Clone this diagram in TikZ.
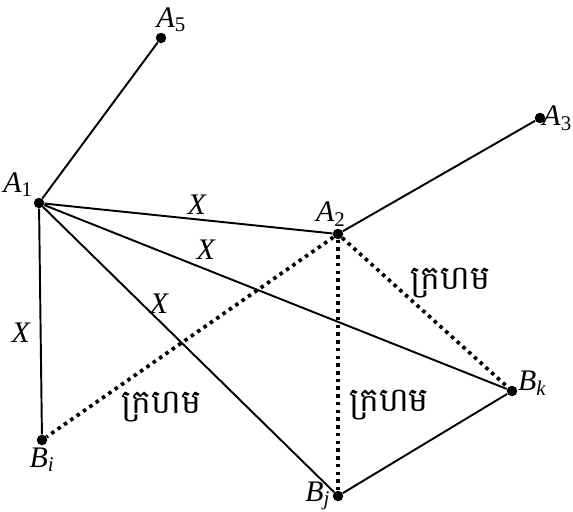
\documentclass[tikz,border=0pt]{standalone}
\usepackage{fontspec}
\setmainfont{Liberation Serif}
\newfontfamily\khmerfont[Script=Khmer]{Battambang}
\usetikzlibrary{positioning}
\newcommand{\pnt}[2]{\textit{#1}\textsubscript{#2}}
\tikzset{
  pt/.style={
    circle, fill=black, inner sep=0pt, minimum size=0.21cm,
    label distance=0pt
  },
  edge/.style={line width=1.1pt, draw=black},
  redge/.style={line width=2.1pt, draw=black, dash pattern=on 2pt off 2.4pt},
  lbl/.style={font=\fontsize{17}{19}\selectfont, inner sep=1pt},
  khm/.style={font=\khmerfont\fontsize{19}{22}\selectfont}
}
\begin{document}
\begin{tikzpicture}[x=0.02cm, y=-0.02cm]
  \useasboundingbox (0,0) rectangle (573,511);
  % points
  \node[pt, label={[lbl, xshift=-6pt]above right:\pnt{A}{5}}] (A5) at (161,38) {};
  \node[pt, label={[lbl]above left:\pnt{A}{1}}] (A1) at (39,203) {};
  \node[pt, label={[lbl, xshift=-3pt]right:\pnt{A}{3}}] (A3) at (540,118) {};
  \node[pt, label={[lbl, xshift=-4pt]above:\pnt{A}{2}}] (A2) at (338,234) {};
  \node[pt, label={[lbl]below:\pnt{B}{\textit{i}}}] (Bi) at (42,440) {};
  \node[pt, label={[lbl]left:\pnt{B}{\textit{j}}}] (Bj) at (338,496) {};
  \node[pt, label={[lbl, yshift=-6pt]above right:\pnt{B}{\textit{k}}}] (Bk) at (512,391) {};

  \draw[edge] (A1) -- (A5);
  \draw[edge] (A2) -- (A3);
  \draw[edge] (A1) -- node[lbl, pos=0.53, above=1pt] (x12) {\textit{X}} (A2);
  \draw[edge] (A1) -- node[lbl, pos=0.35, above=4pt] (x1k) {\textit{X}} (Bk);
  \draw[edge] (A1) -- node[lbl, pos=0.4, above=3pt] (x1j) {\textit{X}} (Bj);
  \draw[edge] (A1) -- node[lbl, pos=0.55, left=4pt] (x1i) {\textit{X}} (Bi);
  \draw[edge] (Bj) -- (Bk);

  % red edges
  \draw[redge] (A2) -- node[khm, pos=0.6, below=0.55cm] (ri) {ក្រហម} (Bi);
  \draw[redge] (A2) -- node[khm, pos=0.66, right=2pt] (rj) {ក្រហម} (Bj);
  \draw[redge] (A2) -- node[khm, pos=0.655, above=0.6cm] (rk) {ក្រហម} (Bk);
\end{tikzpicture}
\end{document}
